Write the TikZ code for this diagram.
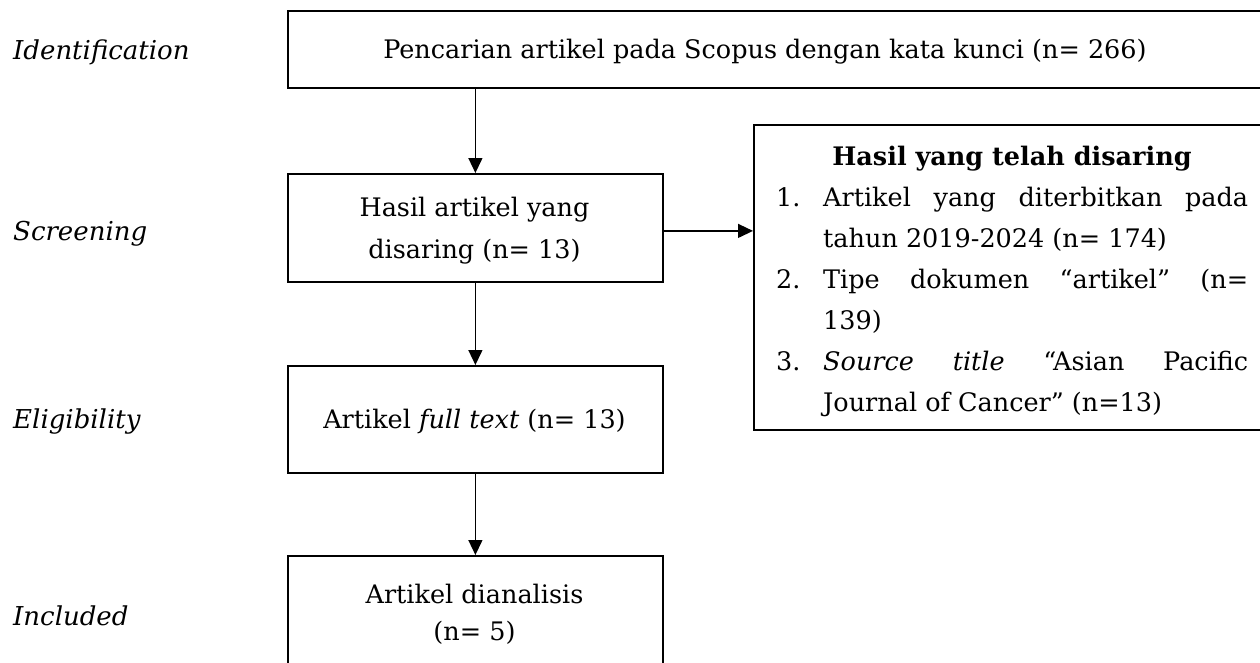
\documentclass[tikz,border=0pt]{standalone}
\usepackage{fontspec}
\setmainfont{DejaVu Serif}
\usetikzlibrary{arrows.meta}
\newcommand{\bodyfont}{\fontsize{25.5}{30}\selectfont}
\tikzset{
  box/.style={draw, line width=1.8pt, rectangle, inner sep=0pt, anchor=north west},
  txt/.style={anchor=base, inner sep=0pt, font=\bodyfont},
  txtl/.style={anchor=base west, inner sep=0pt, font=\bodyfont},
  lbl/.style={anchor=base west, inner sep=0pt, font=\fontsize{26}{30}\selectfont\itshape},
  arr/.style={line width=1.3pt, -{Triangle[length=15pt,width=14pt]}},
}
\begin{document}
\begin{tikzpicture}[x=1pt,y=-1pt]
\clip (0,0) rectangle (1260,662);
\fill[white] (0,0) rectangle (1260,662);
% boxes
\node[box, minimum width=1013pt, minimum height=77pt] (ident) at (287,10) {};
\node[box, minimum width=375pt, minimum height=108pt] (scr) at (287,173) {};
\node[box, minimum width=547pt, minimum height=305pt] (filt) at (753,124) {};
\node[box, minimum width=375pt, minimum height=107pt] (elig) at (287,365) {};
\node[box, minimum width=375pt, minimum height=112pt] (incl) at (287,555) {};
% connectors
\draw[arr] (scr.north |- ident.south) -- (scr.north);
\draw[arr] ([yshift=-3pt]scr.east) -- ([yshift=-3pt]scr.east -| filt.west);
\draw[arr] (scr.south) -- (elig.north);
\draw[arr] (elig.south) -- (incl.north);
% stage labels
\node[lbl] (l1) at (13,59) {Identification};
\node[lbl] (l2) at (13,240) {Screening};
\node[lbl] (l3) at (13,428) {Eligibility};
\node[lbl] (l4) at (13,625) {Included};
% box texts
\node[txt] (t1) at (765,58) {Pencarian artikel pada Scopus dengan kata kunci (n= 266)};
\node[txt] (t2a) at (474.5,216) {Hasil artikel yang};
\node[txt] (t2b) at (474.5,258) {disaring (n= 13)};
\node[txt] (t3) at (474.5,428) {Artikel \textit{full text} (n= 13)};
\node[txt] (t4a) at (474.5,603) {Artikel dianalisis};
\node[txt] (t4b) at (474.5,640) {(n= 5)};
% filter box text
\node[txt, font=\bodyfont\bfseries] (h) at (1012,165) {Hasil yang telah disaring};
\node[txtl] (n1) at (776,206) {1.};
\node[txtl] (a1) at (823,206) {\makebox[425pt][s]{Artikel yang diterbitkan pada}};
\node[txtl] (a2) at (823,247) {tahun 2019-2024 (n= 174)};
\node[txtl] (n2) at (776,288) {2.};
\node[txtl] (b1) at (823,288) {\makebox[425pt][s]{Tipe dokumen “artikel” (n=}};
\node[txtl] (b2) at (823,329) {139)};
\node[txtl] (n3) at (776,370) {3.};
\node[txtl] (c1) at (823,370) {\makebox[425pt][s]{\textit{Source title} “Asian Pacific}};
\node[txtl] (c2) at (823,411) {Journal of Cancer” (n=13)};
\end{tikzpicture}
\end{document}
